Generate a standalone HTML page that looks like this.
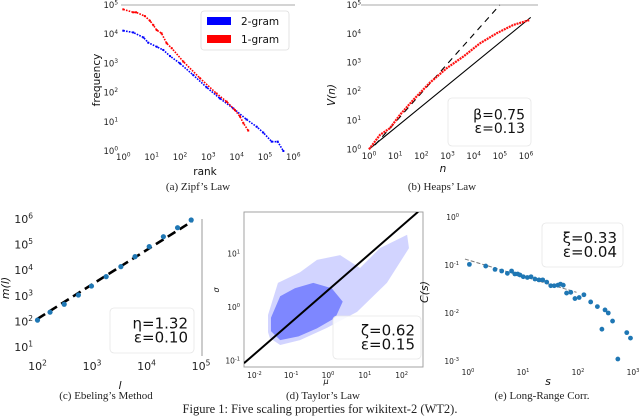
<!DOCTYPE html>
<html><head><meta charset="utf-8"><style>
html,body{margin:0;padding:0;background:#fff;}
svg{display:block;}
text{font-family:"DejaVu Sans","Liberation Sans",sans-serif;}
.cap{font-family:"Liberation Serif",serif;font-size:11px;fill:#222;}
</style></head><body>
<svg id="fig" width="640" height="419" viewBox="0 0 640 419" xmlns="http://www.w3.org/2000/svg">
<g id="pa"></g>
<g id="pb"></g>
<g id="pc"></g>
<g id="pd"></g>
<g id="pe"></g>
<text class="cap" x="198" y="190" text-anchor="middle">(a) Zipf’s Law</text>
<text class="cap" x="442" y="190" text-anchor="middle">(b) Heaps’ Law</text>
<text class="cap" x="106" y="399" text-anchor="middle">(c) Ebeling’s Method</text>
<text class="cap" x="323" y="399" text-anchor="middle">(d) Taylor’s Law</text>
<text class="cap" x="542" y="399" text-anchor="middle">(e) Long-Range Corr.</text>
<text class="cap" x="320" y="413" text-anchor="middle" style="font-size:12.5px">Figure 1: Five scaling properties for wikitext-2 (WT2).</text>
</svg>
<script>
// ---- data (log10 values) ----
const zipfRank1 = [0,0.35,0.45,0.76,0.94,1.06,1.18,1.35,1.53,1.71,2.12,2.71,3.29,3.65,3.94,4.12,4.24,4.41];
const zipfFreq1 = [4.85,4.75,4.75,4.62,4.46,4.31,4.14,4.03,3.69,3.52,3.06,2.49,1.97,1.69,1.40,1.18,0.95,0.70];
const zipfRank2 = [0,0.35,0.71,0.88,1.18,1.41,1.65,2.0,2.47,2.94,3.41,3.88,4.35,4.71,4.94,5.24,5.45,5.65];
const zipfFreq2 = [4.12,4.06,3.89,3.71,3.57,3.46,3.25,3.0,2.6,2.18,1.80,1.46,1.08,0.83,0.63,0.32,0.32,0];
const heapsN = [0,0.42,0.8,1.18,1.69,2.33,2.97,3.6,4.24,4.88,5.52,6.15];
const heapsV = [0,0.5,0.73,1.19,1.71,2.31,2.81,3.21,3.67,4.02,4.31,4.48];
const heapsFitN = [0,6.18];
const heapsFitV = [0,4.57];
const heapsRefN = [0.23,5.0];
const heapsRefV = [0.15,5.0];
const ebL = [2.0,2.23,2.49,2.75,2.99,3.26,3.53,3.79,4.05,4.31,4.57,4.82];
const ebM = [2.05,2.36,2.67,3.03,3.38,3.75,4.14,4.53,4.92,5.31,5.66,5.96];
const ebFitL = [2.0,4.83];
const ebFitM = [2.1,5.9];
const tayFitMu = [-2.28,2.45];
const tayFitSig = [-1.05,1.78];
const tayCloudMu = [-1.63,-1.36,-0.76,-0.3,0.33,0.87,1.41,2.15,2.2,1.6,0.79,-0.03,-0.76,-1.3,-1.58,-1.63];
const tayCloudSig = [-0.15,0.45,0.65,0.88,0.97,0.73,1.1,1.35,1.1,0.45,-0.09,-0.39,-0.62,-0.71,-0.58,-0.47];
const tayCoreMu = [-1.55,-1.3,-0.9,-0.4,0.1,0.4,0.2,-0.3,-0.8,-1.3,-1.55];
const tayCoreSig = [-0.2,0.2,0.35,0.45,0.35,0.1,-0.2,-0.4,-0.55,-0.62,-0.45];
const lrS = [1.06,2.1,3.1,4.1,5.2,6.2,7.1,8,8.8,10.1,12,14,16.5,19.5,22.8,27,32,37,43,48,54,62,74,88,105,128,170,225,272,310,355,425,530,770,900];
const lrC = [0.103,0.095,0.081,0.075,0.067,0.075,0.065,0.065,0.062,0.057,0.055,0.057,0.051,0.049,0.049,0.044,0.037,0.037,0.038,0.040,0.038,0.026,0.027,0.020,0.021,0.024,0.017,0.0136,0.0046,0.0116,0.010,0.0068,0.0011,0.0039,0.0030];
const lrFitS = [0.88,94];
const lrFitC = [0.133,0.027];

const NS="http://www.w3.org/2000/svg";
function mk(parent,tag,attrs){const e=document.createElementNS(NS,tag);for(const k in attrs)e.setAttribute(k,attrs[k]);parent.appendChild(e);return e;}
function sup(parent,x,y,base,exp,size,anchor,fill){
  const t=mk(parent,'text',{x:x,y:y,'font-size':size,'text-anchor':anchor||'middle',fill:fill||'#222'});
  
  
  const a=document.createElementNS(NS,'tspan');a.textContent=base;t.appendChild(a);
  const b=document.createElementNS(NS,'tspan');b.textContent=exp;b.setAttribute('dy',-size*0.4);b.setAttribute('font-size',size*0.68);t.appendChild(b);
  return t;
}
function label(parent,x,y,txt,size,name,rot,italic){
  const t=mk(parent,'text',{x:x,y:y,'font-size':size,'text-anchor':'middle',fill:'#111'});
  if(rot)t.setAttribute('transform','rotate(-90 '+x+' '+y+')');
  if(italic)t.setAttribute('font-style','italic');
  t.textContent=txt;
  
  
  return t;
}
function statBox(parent,x,y,w,h,l1,l2,size,name){
  const g=mk(parent,'g',{});
  
  
  mk(g,'rect',{x:x,y:y,width:w,height:h,rx:4,fill:'#fff','fill-opacity':0.85,stroke:'#e6e6e6','stroke-width':0.8});
  const t1=mk(g,'text',{x:x+w-6,y:y+h*0.45,'font-size':size,'text-anchor':'end',fill:'#111'});t1.textContent=l1;
  const t2=mk(g,'text',{x:x+w-6,y:y+h*0.45+size*0.95,'font-size':size,'text-anchor':'end',fill:'#111'});t2.textContent=l2;
}
function xs(x0,d){return v=>x0+d*v;}
function ys(y0,d){return v=>y0-d*v;}

// ---- Panel a: Zipf ----
(function(){
  const g=document.getElementById('pa');
  const X=xs(123.3,28.33), Y=ys(151,29.2);
  mk(g,'line',{x1:121,y1:5,x2:295,y2:5,stroke:'#aaa','stroke-width':1});
  for(let i=0;i<=6;i++) sup(g,X(i),160,'10',String(i),8.5);
  for(let i=0;i<=5;i++) sup(g,118,Y(i)+3,'10',String(i),8.5,'end');
  label(g,205,175,'rank',10.5,'x-axis-title');
  label(g,100,80,'frequency',10.5,'y-axis-title',true);
  function series(rx,fy,col,name){
    const pts=rx.map((r,i)=>X(r)+','+Y(fy[i])).join(' ');
    const pl=mk(g,'polyline',{points:pts,fill:'none',stroke:col,'stroke-width':1.6,'stroke-dasharray':'1.6 1.2'});
    
    
    rx.forEach((r,i)=>{const c=mk(g,'rect',{x:X(r)-1,y:Y(fy[i])-1,width:2,height:2,fill:col});
      
      });
  }
  series(zipfRank2,zipfFreq2,'#0000ff','bigram');
  series(zipfRank1,zipfFreq1,'#ff0000','unigram');
  const lg=mk(g,'g',{});
  
  
  mk(lg,'rect',{x:201,y:11,width:88,height:39,rx:3,fill:'#fff',stroke:'#ddd','stroke-width':0.8});
  mk(lg,'rect',{x:207,y:17,width:24,height:8,fill:'#0000ff'});
  mk(lg,'rect',{x:207,y:35,width:24,height:8,fill:'#ff0000'});
  const t1=mk(lg,'text',{x:241,y:25,'font-size':10.5,fill:'#111'});t1.textContent='2-gram';
  const t2=mk(lg,'text',{x:241,y:43,'font-size':10.5,fill:'#111'});t2.textContent='1-gram';
})();

// ---- Panel b: Heaps ----
(function(){
  const g=document.getElementById('pb');
  const X=xs(369,26.17), Y=ys(149.3,28.87);
  mk(g,'line',{x1:361,y1:5,x2:538,y2:5,stroke:'#aaa','stroke-width':1});
  for(let i=0;i<=6;i++) sup(g,X(i),159,'10',String(i),8.5);
  for(let i=0;i<=5;i++) sup(g,361,Y(i)+3,'10',String(i),8.5,'end');
  label(g,443,172,'n',10.5,'x-axis-title',false,true);
  label(g,335,95,'V(n)',10.5,'y-axis-title',true,true);
  const ref=mk(g,'line',{x1:X(heapsRefN[0]),y1:Y(heapsRefV[0]),x2:X(heapsRefN[1]),y2:Y(heapsRefV[1]),stroke:'#000','stroke-width':1.1,'stroke-dasharray':'6 5'});
  
  
  const fit=mk(g,'line',{x1:X(heapsFitN[0]),y1:Y(heapsFitV[0]),x2:X(heapsFitN[1]),y2:Y(heapsFitV[1]),stroke:'#000','stroke-width':1.1});
  
  
  const pl=mk(g,'polyline',{points:heapsN.map((n,i)=>X(n)+','+Y(heapsV[i])).join(' '),fill:'none',stroke:'#ff1010','stroke-width':2.2,'stroke-dasharray':'2 0.8'});
  
  
  statBox(g,448,98,83,48,'β=0.75','ε=0.13',14,'stat-box');
})();

// ---- Panel c: Ebeling ----
(function(){
  const g=document.getElementById('pc');
  const X=xs(37.5-2*54.5,54.5), Y=ys(219+6*25.6,25.6);
  mk(g,'line',{x1:202,y1:219,x2:202,y2:356,stroke:'#999','stroke-width':1});
  for(let i=2;i<=5;i++) sup(g,X(i),370,'10',String(i),11);
  for(let i=1;i<=6;i++) sup(g,33,Y(i)+4,'10',String(i),11,'end');
  label(g,120,389,'l',11,'x-axis-title',false,true);
  label(g,9,288,'m(l)',11,'y-axis-title',true,true);
  statBox(g,110,308,84,45,'η=1.32','ε=0.10',15,'stat-box');
  const fit=mk(g,'line',{x1:X(ebFitL[0]),y1:Y(ebFitM[0]),x2:X(ebFitL[1]),y2:Y(ebFitM[1]),stroke:'#000','stroke-width':2.6,'stroke-dasharray':'9 5'});
  
  
  ebL.forEach((l,i)=>{const c=mk(g,'circle',{cx:X(l),cy:Y(ebM[i]),r:2.6,fill:'#1f77b4'});
    
    });
})();

// ---- Panel d: Taylor ----
(function(){
  const g=document.getElementById('pd');
  const X=xs(328,36.8), Y=ys(307,53.5);
  const cp=mk(g,'clipPath',{id:'clipd'});mk(cp,'rect',{x:244,y:212,width:179,height:155});
  mk(g,'rect',{x:244,y:212,width:179,height:155,fill:'#fff',stroke:'#999','stroke-width':0.9});
  const inner=mk(g,'g',{'clip-path':'url(#clipd)'});
  const cloud=mk(inner,'polygon',{points:tayCloudMu.map((m,i)=>X(m)+','+Y(tayCloudSig[i])).join(' '),fill:'#6a72ff','fill-opacity':0.3});
  
  
  const core=mk(inner,'polygon',{points:tayCoreMu.map((m,i)=>X(m)+','+Y(tayCoreSig[i])).join(' '),fill:'#2a3aff','fill-opacity':0.5});
  
  
  const fit=mk(inner,'line',{x1:X(tayFitMu[0]),y1:Y(tayFitSig[0]),x2:X(tayFitMu[1]),y2:Y(tayFitSig[1]),stroke:'#000','stroke-width':2});
  
  
  for(let i=-2;i<=2;i++) sup(g,X(i),378,'10',String(i),7.5);
  for(let i=-1;i<=1;i++) sup(g,240,Y(i)+3,'10',String(i),7.5,'end');
  label(g,326,384,'μ',8,'x-axis-title',false,true);
  label(g,219,290,'σ',8,'y-axis-title',true,true);
  statBox(g,333,316,88,43,'ζ=0.62','ε=0.15',15,'stat-box');
})();

// ---- Panel e: Long-range ----
(function(){
  const g=document.getElementById('pe');
  const X=v=>468+55*Math.log10(v), Y=v=>217-48*Math.log10(v);
  for(let i=0;i<=3;i++) sup(g,468+55*i,375,'10',String(i),7.5);
  for(let i=-3;i<=0;i++) sup(g,459,217-48*i+3,'10',String(i),7.5,'end');
  label(g,548,385,'s',11,'x-axis-title',false,true);
  label(g,428,292,'C(s)',11,'y-axis-title',true,true);
  statBox(g,542,223,81,44,'ξ=0.33','ε=0.04',15,'stat-box');
  const fit=mk(g,'line',{x1:X(lrFitS[0]),y1:Y(lrFitC[0]),x2:X(lrFitS[1]),y2:Y(lrFitC[1]),stroke:'#777','stroke-width':1,'stroke-dasharray':'4 2'});
  
  
  lrS.forEach((s,i)=>{const c=mk(g,'circle',{cx:X(s),cy:Y(lrC[i]),r:2.4,fill:'#1f77b4'});
    
    });
})();
</script>
</body></html>
